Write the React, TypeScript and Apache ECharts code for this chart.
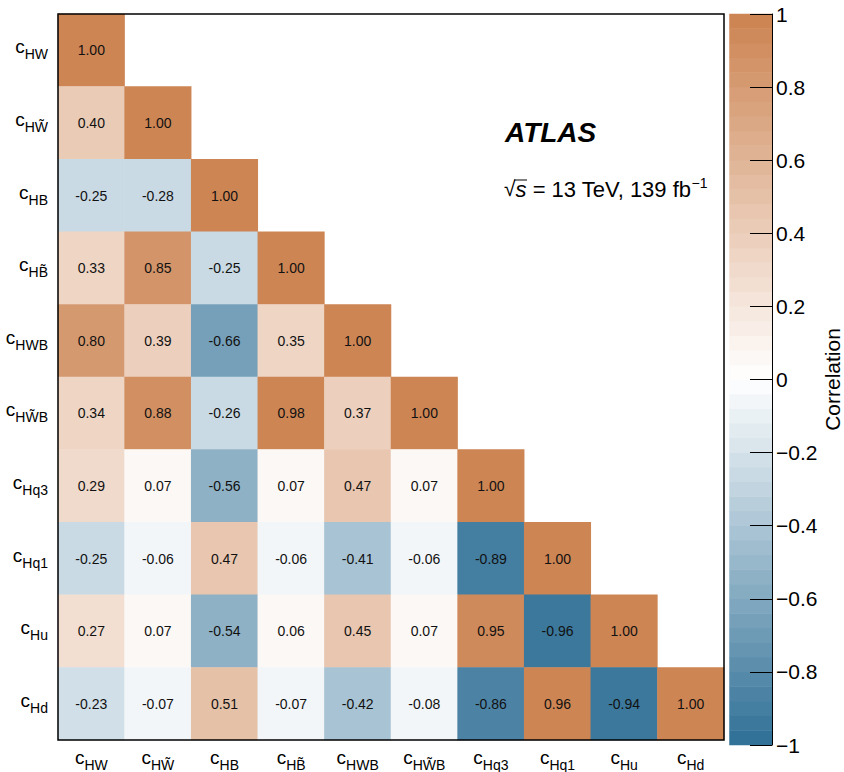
import React, { useEffect, useRef } from 'react';
import * as echarts from 'echarts';

// Wilson coefficient subscripts (c_{...})
const coefficients = ['HW', 'HW\u0303', 'HB', 'HB\u0303', 'HWB', 'HW\u0303B', 'Hq3', 'Hq1', 'Hu', 'Hd'];

// Lower-triangular correlation matrix, row by row
const row0 = [1.0];
const row1 = [0.4, 1.0];
const row2 = [-0.25, -0.28, 1.0];
const row3 = [0.33, 0.85, -0.25, 1.0];
const row4 = [0.8, 0.39, -0.66, 0.35, 1.0];
const row5 = [0.34, 0.88, -0.26, 0.98, 0.37, 1.0];
const row6 = [0.29, 0.07, -0.56, 0.07, 0.47, 0.07, 1.0];
const row7 = [-0.25, -0.06, 0.47, -0.06, -0.41, -0.06, -0.89, 1.0];
const row8 = [0.27, 0.07, -0.54, 0.06, 0.45, 0.07, 0.95, -0.96, 1.0];
const row9 = [-0.23, -0.07, 0.51, -0.07, -0.42, -0.08, -0.86, 0.96, -0.94, 1.0];
const rows = [row0, row1, row2, row3, row4, row5, row6, row7, row8, row9];

// colour scale
const scaleMin = -1;
const scaleMax = 1;
const nLevels = 50;
const colorNeg = [51, 114, 152];
const colorMid = [255, 255, 255];
const colorPos = [205, 133, 84];

function levelColor(k: number) {
  const t = k / (nLevels - 1);
  let a: number[], b: number[], u: number;
  if (t < 0.5) { a = colorNeg; b = colorMid; u = t / 0.5; }
  else { a = colorMid; b = colorPos; u = (t - 0.5) / 0.5; }
  const c = a.map((x, i) => Math.round(x + (b[i] - x) * u));
  return `rgb(${c[0]},${c[1]},${c[2]})`;
}

const MINUS = '\u2212';

export default function App() {
  const ref = useRef<HTMLDivElement>(null);
  useEffect(() => {
    document.body.style.margin = '0';
    const chart = echarts.init(ref.current!, null, { renderer: 'svg' });
    const step = (scaleMax - scaleMin) / nLevels;
    const pieces: any[] = [];
    for (let k = 0; k < nLevels; k++) {
      const lo = scaleMin + k * step;
      const hi = lo + step;
      const p: any = { gte: lo - 1e-9, color: levelColor(k) };
      if (k === nLevels - 1) p.lte = hi + 1e-9; else p.lt = hi - 1e-9;
      pieces.push(p);
    }
    const cellData: any[] = [];
    rows.forEach((r, i) => r.forEach((v, j) => cellData.push([j, i, v])));
    const barCats = Array.from({ length: nLevels }, (_, k) => String(k));
    const barData = barCats.map((_, k) => [0, k, scaleMin + (k + 0.5) * step]);

    const font = 'Liberation Sans, Arial, Helvetica, sans-serif';
    const rich = {
      c: { fontSize: 19, fontFamily: font, color: '#000', padding: [0, 0, 7, 0] },
      s: { fontSize: 14, fontFamily: font, color: '#000', padding: [8, 0, 0, 0] },
    };
    const lab = (v: string) => `{c|c}{s|${v}}`;

    chart.setOption({
      animation: false,
      backgroundColor: '#fff',
      grid: [
        { left: 58, top: 14, width: 666, height: 731, show: true, borderColor: '#000', borderWidth: 1.5, backgroundColor: 'transparent', z: 5 },
        { left: 729.5, top: 14, width: 43.5, height: 731 },
      ],
      xAxis: [
        {
          type: 'category', gridIndex: 0, data: coefficients,
          axisLine: { show: false }, axisTick: { show: false }, splitLine: { show: false },
          axisLabel: { formatter: lab, rich, margin: 8, interval: 0 },
        },
        { type: 'category', gridIndex: 1, data: ['bar'], show: false },
      ],
      yAxis: [
        {
          type: 'category', gridIndex: 0, data: coefficients, inverse: true,
          axisLine: { show: false }, axisTick: { show: false }, splitLine: { show: false },
          axisLabel: { formatter: lab, rich, margin: 10, interval: 0 },
        },
        { type: 'category', gridIndex: 1, data: barCats, show: false },
        {
          type: 'value', gridIndex: 1, min: scaleMin, max: scaleMax, interval: 0.2, position: 'right',
          axisLine: { show: true, lineStyle: { color: '#000', width: 1 } },
          axisTick: { show: true, inside: true, length: 22, lineStyle: { color: '#000', width: 1 } },
          splitLine: { show: false },
          axisLabel: {
            margin: 4, fontSize: 21, fontFamily: font, color: '#000',
            formatter: (v: number) => {
              const r = Math.round(v * 10) / 10;
              if (r === 0) return '0';
              return (r < 0 ? MINUS : '') + String(Math.abs(r));
            },
          },
          name: 'Correlation', nameLocation: 'middle', nameRotate: 90, nameGap: 50,
          nameTextStyle: { fontSize: 21, fontFamily: font, color: '#000' },
          z: 10,
        },
      ],
      visualMap: { type: 'piecewise', show: false, dimension: 2, seriesIndex: [0, 1], pieces },
      series: [
        {
          type: 'heatmap', xAxisIndex: 0, yAxisIndex: 0, data: cellData,
          label: {
            show: true, fontSize: 14, fontFamily: font, color: '#111',
            formatter: (p: any) => p.value[2].toFixed(2),
          },
          itemStyle: { borderWidth: 0 },
          emphasis: { disabled: true },
        },
        {
          type: 'heatmap', xAxisIndex: 1, yAxisIndex: 1, data: barData,
          emphasis: { disabled: true },
        },
      ],
      graphic: [
        {
          type: 'text', left: 505, top: 118,
          style: { text: 'ATLAS', fontSize: 28, fontWeight: 'bold', fontStyle: 'italic', fontFamily: font, fill: '#000' },
        },
        {
          type: 'text', left: 504, top: 176,
          style: {
            text: '{r|\u221A}{s|s}{t| = 13 TeV, 139 fb}{u|\u22121}',
            fontFamily: font, fill: '#000',
            rich: {
              r: { fontSize: 21, fontFamily: font, padding: [0, 0, 2, 0] },
              s: { fontSize: 22, fontFamily: font, fontStyle: 'italic' },
              t: { fontSize: 22, fontFamily: font },
              u: { fontSize: 14, fontFamily: font, padding: [0, 0, 13, 0] },
            },
          },
        },
        {
          type: 'line', shape: { x1: 514, y1: 180, x2: 527, y2: 180 },
          style: { stroke: '#000', lineWidth: 1 },
        },
      ],
    });
    return () => chart.dispose();
  }, []);
  return <div ref={ref} style={{ width: 844, height: 772 }} />;
}
